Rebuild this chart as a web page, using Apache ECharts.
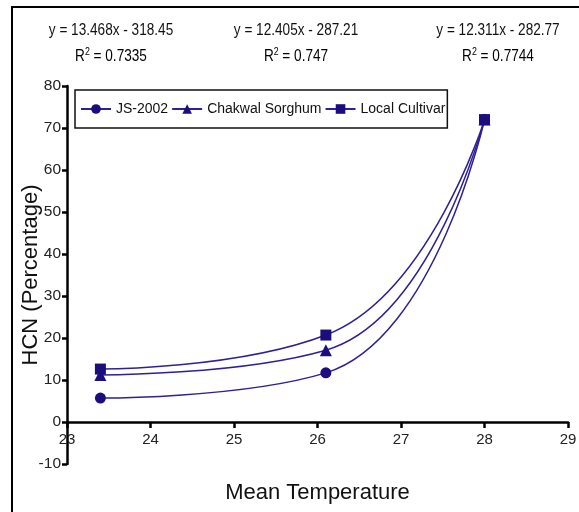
<!DOCTYPE html>
<html><head><meta charset="utf-8">
<script src="https://cdn.jsdelivr.net/npm/echarts@6/dist/echarts.min.js"></script>
<style>html,body{margin:0;padding:0;background:#fff}#c{width:579px;height:512px}</style>
</head><body><div id="c"></div>
<script>
const temps = [23.4, 26.1, 28];
const js2002 = [5.7, 11.7, 72];
const chakwal = [11.2, 17.1, 72];
const localCultivar = [12.6, 20.7, 72];
const seriesNames = ['JS-2002', 'Chakwal Sorghum', 'Local Cultivar'];
const equations = ['y = 13.468x - 318.45', 'y = 12.405x - 287.21', 'y = 12.311x - 282.77'];
const r2Values = ['0.7335', '0.747', '0.7744'];

const FONT = '"Liberation Sans", Arial, sans-serif';
const LINE = '#2e2196';
const MARK = '#1c0d7e';

const chart = echarts.init(document.getElementById('c'), null, {renderer: 'canvas'});
const pts = arr => temps.map((t, i) => [t, arr[i]]);
const mk = (name, data, symbol, size) => ({
  name, type: 'line', data: pts(data), smooth: 0.5,
  symbol, symbolSize: size,
  lineStyle: {color: LINE, width: 1.5},
  itemStyle: {color: MARK},
  emphasis: {disabled: true}
});
const eqX = [111, 296, 498];
const graphics = [{
  type: 'rect', shape: {x: 12, y: 7, width: 600, height: 600},
  style: {fill: 'none', stroke: '#000', lineWidth: 2}, silent: true
}];
eqX.forEach((x, i) => {
  graphics.push({type: 'text', x: x, y: 30, scaleX: 0.8, style: {text: equations[i], font: '17px ' + FONT, fill: '#111', textAlign: 'center', textVerticalAlign: 'middle'}});
  graphics.push({type: 'text', x: x, y: 56, scaleX: 0.8, style: {
    text: '{a|R}{s|2}{a| = ' + r2Values[i] + '}', textAlign: 'center', textVerticalAlign: 'middle',
    rich: {a: {fontSize: 17, fontFamily: FONT, color: '#111'},
           s: {fontSize: 11, fontFamily: FONT, color: '#111', verticalAlign: 'top', padding: [0, 0, 9, 0]}}
  }});
});

chart.setOption({
  animation: false,
  backgroundColor: '#fff',
  grid: {left: 67, right: 11, top: 86, bottom: 48, containLabel: false, outerBoundsMode: 'none'},
  legend: {
    left: 75, top: 90, data: seriesNames,
    itemWidth: 30, itemHeight: 12, itemGap: 3,
    padding: [12, 2, 12, 5],
    borderColor: '#111', borderWidth: 1.5,
    textStyle: {fontFamily: FONT, fontSize: 14, color: '#111'}
  },
  xAxis: {
    type: 'value', min: 23, max: 29, interval: 1,
    name: 'Mean Temperature', nameLocation: 'middle', nameGap: 18, nameMoveOverlap: false,
    nameTextStyle: {fontFamily: FONT, fontSize: 22, color: '#111'},
    axisLine: {onZero: true, lineStyle: {color: '#000', width: 2.5}},
    axisTick: {inside: false, length: 6, lineStyle: {color: '#000', width: 2.5}},
    axisLabel: {fontFamily: FONT, fontSize: 15, color: '#222', margin: -32},
    splitLine: {show: false}
  },
  yAxis: {
    type: 'value', min: -10, max: 80, interval: 10,
    name: 'HCN (Percentage)', nameLocation: 'middle', nameGap: 25, nameRotate: 90, nameMoveOverlap: false,
    nameTextStyle: {fontFamily: FONT, fontSize: 22, color: '#111'},
    axisLine: {onZero: false, lineStyle: {color: '#000', width: 2.5}},
    axisTick: {inside: false, length: 5, lineStyle: {color: '#000', width: 2.5}},
    axisLabel: {fontFamily: FONT, fontSize: 15.5, color: '#222', margin: 6},
    splitLine: {show: false}
  },
  series: [
    mk(seriesNames[0], js2002, 'circle', 11),
    mk(seriesNames[1], chakwal, 'triangle', 12),
    mk(seriesNames[2], localCultivar, 'rect', 11)
  ],
  graphic: graphics
});
</script></body></html>
